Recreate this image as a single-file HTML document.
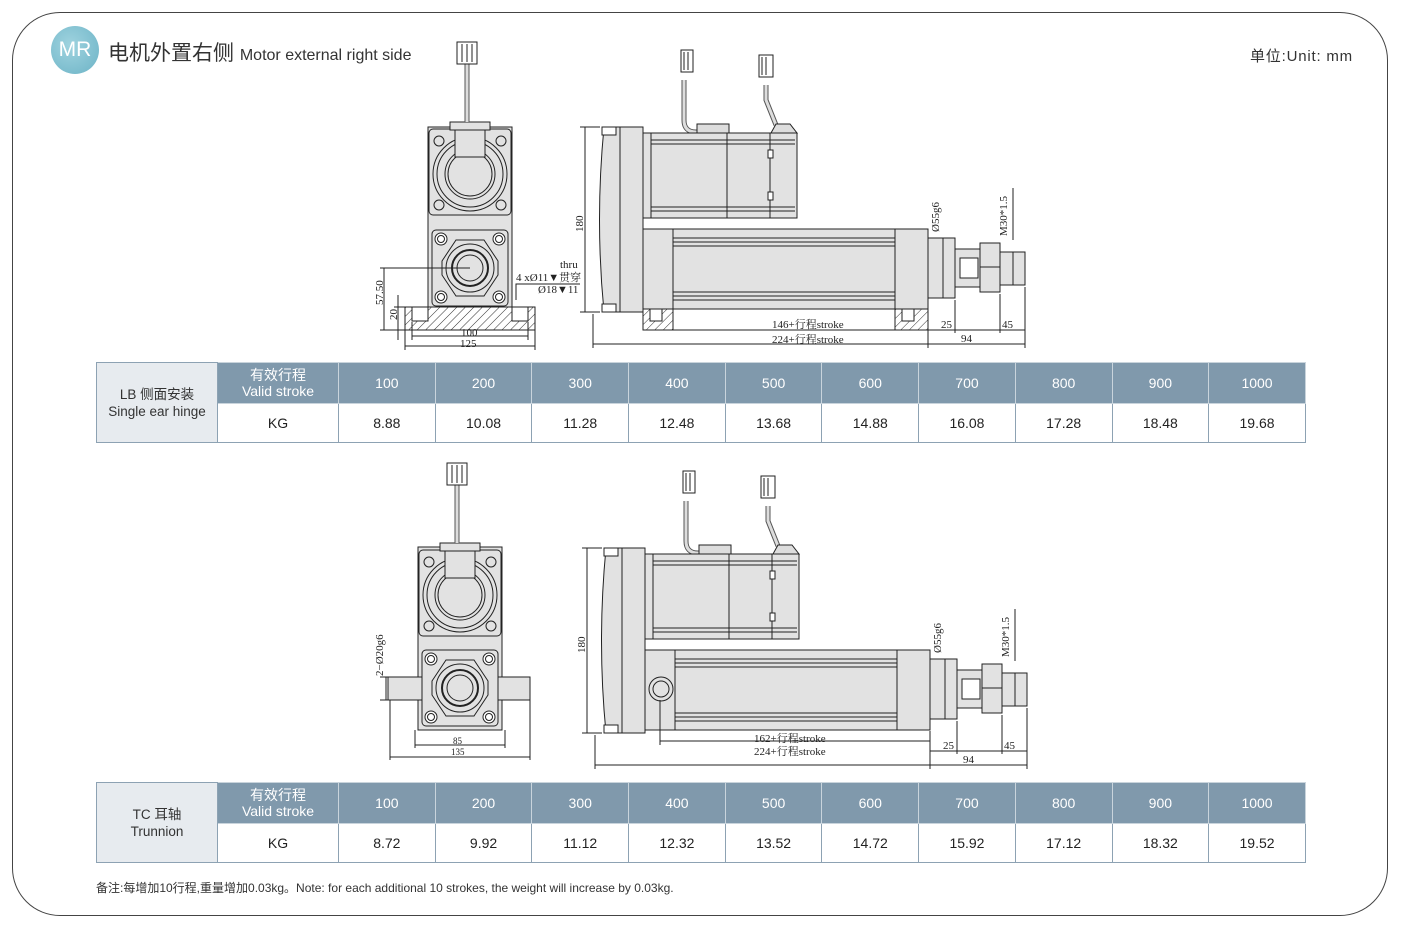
<!DOCTYPE html>
<html><head><meta charset="utf-8"><style>
html,body{margin:0;padding:0;background:#fff;}
body{width:1406px;height:932px;position:relative;overflow:hidden;font-family:"Liberation Sans","Noto Sans CJK SC",sans-serif;}
.frame{position:absolute;left:12px;top:12px;width:1376px;height:904px;border:1px solid #444;border-radius:48px;box-sizing:border-box;}
.logo{position:absolute;left:51px;top:26px;width:48px;height:48px;border-radius:50%;background:radial-gradient(circle at 40% 40%,#9fd3df,#6cb3c6);color:#fff;font-size:21px;line-height:48px;text-align:center;}
.title{position:absolute;left:108px;top:37px;font-size:21px;color:#333;white-space:nowrap;}
.title span{font-size:16px;}
.unit{position:absolute;left:1250px;top:45px;font-size:15px;letter-spacing:0.8px;color:#333;}
table{position:absolute;left:96px;width:1209px;table-layout:fixed;border-collapse:collapse;font-size:14px;color:#222;}
td{text-align:center;padding:0;}
.h td{background:#8099ac;color:#fff;height:40px;border:1px solid #c9d4dc;}
.d td{background:#fff;height:38px;border:1px solid #8da2b3;}
td.lab{background:#e7ebef;color:#333;border:1px solid #8da2b3;line-height:17px;font-size:13.5px;}
.note{position:absolute;left:96px;top:879px;font-size:12px;color:#333;}
svg{position:absolute;left:0;top:0;}
</style></head><body>
<div class="frame"></div>
<div class="logo">MR</div>
<div class="title">电机外置右侧 <span>Motor external right side</span></div>
<div class="unit">单位:Unit: mm</div>

<svg width="1406" height="932" viewBox="0 0 1406 932" font-family="Liberation Serif, Noto Serif CJK SC, serif" font-size="11" fill="none" stroke="#222" stroke-width="1">
<defs>
<pattern id="hatch" width="6" height="6" patternUnits="userSpaceOnUse" patternTransform="rotate(45)"><line x1="0" y1="0" x2="0" y2="6" stroke="#333" stroke-width="1"/></pattern>
<g id="side">
  <rect x="681" y="50" width="12" height="22" fill="#fff"/><line x1="684" y1="52" x2="684" y2="70"/><line x1="688" y1="52" x2="688" y2="70"/>
  <path d="M684 80 L684 120 Q684 132 696 132 L700 132" stroke-width="5" stroke="#555"/>
  <path d="M684 80 L684 120 Q684 132 696 132 L700 132" stroke-width="3" stroke="#ddd"/>
  <rect x="759" y="55" width="14" height="22" fill="#fff"/><line x1="762" y1="57" x2="762" y2="75"/><line x1="766" y1="57" x2="766" y2="75"/>
  <path d="M766 85 L766 100 L776 125" stroke-width="5" stroke="#555"/>
  <path d="M766 85 L766 100 L776 125" stroke-width="3" stroke="#ddd"/>
  <rect x="697" y="124" width="32" height="9" fill="#ddd"/>
  <path d="M771 133 L776 124 L790 124 L797 133 Z" fill="#ddd"/>
  <rect x="643" y="133" width="154" height="85" fill="#e2e2e2"/>
  <line x1="651" y1="133" x2="651" y2="218"/><line x1="727" y1="133" x2="727" y2="218"/><line x1="770" y1="133" x2="770" y2="218"/>
  <line x1="651" y1="140" x2="795" y2="140"/><line x1="651" y1="144" x2="795" y2="144"/><line x1="651" y1="207" x2="795" y2="207"/><line x1="651" y1="211" x2="795" y2="211"/>
  <rect x="768" y="150" width="5" height="8" fill="#fff"/><rect x="768" y="192" width="5" height="8" fill="#fff"/>
  <rect x="620" y="127" width="23" height="185" fill="#e2e2e2"/>
  <path d="M604 127 L620 127 L620 312 L604 312 Q595 220 604 127 Z" fill="#e2e2e2"/>
  <rect x="602" y="127" width="14" height="8" fill="#fff"/><rect x="602" y="304" width="14" height="8" fill="#fff"/>
  <rect x="643" y="229" width="285" height="80" fill="#e2e2e2"/>
  <line x1="673" y1="229" x2="673" y2="309"/><line x1="895" y1="229" x2="895" y2="309"/>
  <line x1="673" y1="238" x2="895" y2="238"/><line x1="673" y1="242" x2="895" y2="242"/><line x1="673" y1="246" x2="895" y2="246"/>
  <line x1="673" y1="292" x2="895" y2="292"/><line x1="673" y1="296" x2="895" y2="296"/><line x1="673" y1="300" x2="895" y2="300"/>
  <rect x="928" y="238" width="27" height="60" fill="#e2e2e2"/>
  <rect x="955" y="249" width="25" height="38" fill="#e2e2e2"/>
  <rect x="960" y="258" width="18" height="20" fill="#fff"/>
  <rect x="980" y="243" width="20" height="49" fill="#e2e2e2"/>
  <line x1="980" y1="267" x2="1000" y2="267"/>
  <rect x="1000" y="252" width="25" height="33" fill="#e2e2e2"/>
  <line x1="585" y1="127" x2="585" y2="312"/><line x1="580" y1="127" x2="600" y2="127"/><line x1="580" y1="312" x2="600" y2="312"/>
  <line x1="943" y1="238" x2="943" y2="298"/>
  <line x1="1013" y1="252" x2="1013" y2="285"/><line x1="1013" y1="240" x2="1013" y2="188"/>
  <line x1="928" y1="310" x2="928" y2="348"/><line x1="955" y1="300" x2="955" y2="333"/><line x1="1025" y1="287" x2="1025" y2="348"/><line x1="1000" y1="294" x2="1000" y2="333"/>
  <line x1="928" y1="330" x2="975" y2="330"/><line x1="975" y1="330" x2="1025" y2="330"/>
  <line x1="928" y1="344" x2="1025" y2="344"/>
  <line x1="593" y1="344" x2="928" y2="344"/><line x1="593" y1="314" x2="593" y2="348"/>
  <g fill="#222" stroke="none" font-size="11">
    <text x="941" y="328">25</text><text x="1002" y="328">45</text><text x="961" y="342">94</text>
    <text transform="translate(583 232) rotate(-90)">180</text>
    <text transform="translate(939 232) rotate(-90)">Ø55g6</text>
    <text transform="translate(1007 236) rotate(-90)">M30*1.5</text>
  </g>
</g>
<g id="gear">
  <rect x="-38" y="-38" width="76" height="76" rx="4" fill="#e2e2e2"/>
  <circle cx="-29" cy="-29" r="6" fill="#fff"/><circle cx="29" cy="-29" r="6" fill="#fff"/><circle cx="-29" cy="29" r="6" fill="#fff"/><circle cx="29" cy="29" r="6" fill="#fff"/>
  <circle cx="-29" cy="-29" r="3.5"/><circle cx="29" cy="-29" r="3.5"/><circle cx="-29" cy="29" r="3.5"/><circle cx="29" cy="29" r="3.5"/>
  <path d="M-14 -28 L14 -28 L28 -7 L28 7 L14 28 L-14 28 L-28 7 L-28 -7 Z" fill="#e2e2e2"/>
  <circle r="24"/><circle r="18" fill="#e2e2e2" stroke-width="2"/><circle r="13" fill="#e2e2e2"/>
</g>
<g id="mot">
  <rect x="-41" y="-43" width="82" height="86" rx="4" fill="#e2e2e2"/>
  <circle cx="-31" cy="-31" r="5"/><circle cx="31" cy="-31" r="5"/><circle cx="-31" cy="33" r="5"/><circle cx="31" cy="33" r="5"/>
  <circle cy="2" r="37" fill="#e2e2e2"/><circle cy="2" r="33"/><circle cy="2" r="25" fill="#e2e2e2"/><circle cy="2" r="22"/>
  <path d="M-15 -44 L-15 -15 L15 -15 L15 -44" fill="#e2e2e2"/>
  <rect x="-20" y="-50" width="40" height="8" fill="#e2e2e2"/>
  <line x1="-3" y1="-50" x2="-3" y2="-110" stroke-width="5" stroke="#555"/><line x1="-3" y1="-50" x2="-3" y2="-110" stroke-width="3" stroke="#ddd"/>
  <rect x="-13" y="-130" width="20" height="22" fill="#fff"/><line x1="-8" y1="-128" x2="-8" y2="-110"/><line x1="-3" y1="-128" x2="-3" y2="-110"/><line x1="2" y1="-128" x2="2" y2="-110"/>
</g>
</defs>

<use href="#side"/>
<g>
  <rect x="428" y="127" width="84" height="180" fill="#e2e2e2"/>
  <use href="#mot" transform="translate(470 172)"/>
  <use href="#gear" transform="translate(470 268)"/>
  <rect x="405" y="307" width="130" height="23" fill="url(#hatch)"/>
  <rect x="405" y="307" width="130" height="23"/>
  <rect x="412" y="307" width="16" height="14" fill="#fff"/><rect x="512" y="307" width="16" height="14" fill="#fff"/>
  <line x1="380" y1="268" x2="470" y2="268"/><line x1="384" y1="268" x2="384" y2="330"/><line x1="398" y1="295" x2="398" y2="340"/>
  <line x1="380" y1="330" x2="405" y2="330"/><line x1="394" y1="307" x2="405" y2="307"/>
  <line x1="412" y1="336" x2="528" y2="336"/><line x1="405" y1="346" x2="535" y2="346"/>
  <line x1="412" y1="322" x2="412" y2="340"/><line x1="528" y1="322" x2="528" y2="340"/><line x1="405" y1="330" x2="405" y2="350"/><line x1="535" y1="330" x2="535" y2="350"/>
  <path d="M516 300 L516 284 L580 284"/>
  <g fill="#222" stroke="none">
    <text transform="translate(383 305) rotate(-90)">57.50</text>
    <text transform="translate(397 320) rotate(-90)">20</text>
    <text x="461" y="336">100</text><text x="460" y="347">125</text>
    <text x="560" y="268">thru</text><text x="516" y="281">4 xØ11▼贯穿</text><text x="538" y="293">Ø18▼11</text>
  </g>
  <rect x="643" y="309" width="30" height="21" fill="url(#hatch)"/><rect x="643" y="309" width="30" height="21"/>
  <rect x="895" y="309" width="33" height="21" fill="url(#hatch)"/><rect x="895" y="309" width="33" height="21"/>
  <rect x="650" y="309" width="12" height="12" fill="#fff"/><rect x="902" y="309" width="12" height="12" fill="#fff"/>
  <line x1="673" y1="330" x2="928" y2="330"/>
  <g fill="#222" stroke="none"><text x="772" y="328">146+行程stroke</text><text x="772" y="343">224+行程stroke</text></g>
</g>

<use href="#side" transform="translate(2 421)"/>
<g>
  <rect x="418" y="547" width="84" height="183" fill="#e2e2e2"/>
  <use href="#mot" transform="translate(460 593)"/>
  <rect x="388" y="677" width="142" height="23" fill="#e2e2e2"/>
  <use href="#gear" transform="translate(460 688)"/>
  <circle cx="661" cy="689" r="12" fill="#e2e2e2"/><circle cx="661" cy="689" r="8"/>
  <line x1="386" y1="677" x2="386" y2="700"/><line x1="380" y1="677" x2="418" y2="677"/><line x1="380" y1="700" x2="418" y2="700"/>
  <line x1="415" y1="745" x2="505" y2="745"/><line x1="390" y1="757" x2="530" y2="757"/>
  <line x1="390" y1="700" x2="390" y2="760"/><line x1="530" y1="700" x2="530" y2="760"/><line x1="415" y1="730" x2="415" y2="748"/><line x1="505" y1="730" x2="505" y2="748"/>
  <line x1="660" y1="741" x2="930" y2="741"/><line x1="660" y1="700" x2="660" y2="745"/>
  <g fill="#222" stroke="none">
    <text transform="translate(383 676) rotate(-90)">2−Ø20g6</text>
    <text x="453" y="744" font-size="9">85</text><text x="451" y="755" font-size="9">135</text>
    <text x="754" y="742">162+行程stroke</text><text x="754" y="755">224+行程stroke</text>
  </g>
</g>
</svg>

<table style="top:362px">
<colgroup><col style="width:121px"><col style="width:121px"><col span="10" style="width:96.7px"></colgroup>
<tr class="h"><td class="lab" rowspan="2">LB&nbsp;侧面安装<br>Single ear hinge</td><td style="line-height:16px">有效行程<br>Valid stroke</td><td>100</td><td>200</td><td>300</td><td>400</td><td>500</td><td>600</td><td>700</td><td>800</td><td>900</td><td>1000</td></tr>
<tr class="d"><td>KG</td><td>8.88</td><td>10.08</td><td>11.28</td><td>12.48</td><td>13.68</td><td>14.88</td><td>16.08</td><td>17.28</td><td>18.48</td><td>19.68</td></tr>
</table>

<table style="top:782px">
<colgroup><col style="width:121px"><col style="width:121px"><col span="10" style="width:96.7px"></colgroup>
<tr class="h"><td class="lab" rowspan="2">TC&nbsp;耳轴<br>Trunnion</td><td style="line-height:16px">有效行程<br>Valid stroke</td><td>100</td><td>200</td><td>300</td><td>400</td><td>500</td><td>600</td><td>700</td><td>800</td><td>900</td><td>1000</td></tr>
<tr class="d"><td>KG</td><td>8.72</td><td>9.92</td><td>11.12</td><td>12.32</td><td>13.52</td><td>14.72</td><td>15.92</td><td>17.12</td><td>18.32</td><td>19.52</td></tr>
</table>

<div class="note">备注:每增加10行程,重量增加0.03kg。Note: for each additional 10 strokes, the weight will increase by 0.03kg.</div>
</body></html>
